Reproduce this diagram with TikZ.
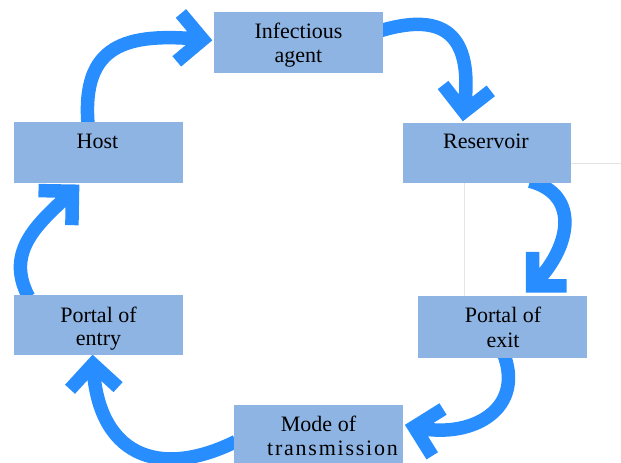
\documentclass[tikz,border=0pt]{standalone}
\usepackage{fontspec}
\setmainfont{Liberation Serif}
\usetikzlibrary{calc}
\definecolor{boxblue}{RGB}{142,180,227}
\definecolor{arrowblue}{RGB}{40,142,255}
\definecolor{faint}{RGB}{228,228,228}
\begin{document}
\begin{tikzpicture}[x=1pt,y=-1pt,
  box/.style={fill=boxblue, draw=none, inner sep=0pt, minimum width=169pt, minimum height=61pt},
  txt/.style={font=\fontsize{22}{24}\selectfont, anchor=base, inner sep=0pt},
  cyc/.style={draw=arrowblue, line width=13.5pt, line cap=butt, line join=miter},
  faintline/.style={draw=faint, line width=0.8pt}]
\useasboundingbox (0,0) rectangle (621,463);
% boxes (placed first, arrows reference them, boxes redrawn on top)
\path (298.5,42.5) node[box] (agent) {}
      (98.5,152.5) node[box] (host) {}
      (487,153) node[box, minimum width=168pt, minimum height=60pt] (reservoir) {}
      (98.5,325) node[box, minimum height=60pt] (entry) {}
      (502.5,327) node[box, minimum height=62pt] (exit) {}
      (318.5,435.5) node[box] (mode) {};
% faint lines
\draw[faintline] (571,163) -- (621,163);
\draw[faintline] (464,183) -- (464,296);
% arrows (shaft + chevron head)
\draw[cyc] ($(host.north)+(-10.5,2)$) .. controls (82,45) and (125,32) .. ($(agent.west)+(-11,-3)$)
  coordinate (e1) ++(140:34) -- (e1) -- ++(230:34);
\draw[cyc] ($(agent.east)+(-2,-12)$) .. controls (458,8) and (472,50) .. ($(reservoir.north)+(-23,-11)$)
  coordinate (e2) ++(232:34) -- (e2) -- ++(322:34);
\draw[cyc] ($(reservoir.south)+(43,-2)$) .. controls (582,195) and (570,250) .. ($(exit.north)+(30,-10)$)
  coordinate (e3) ++(270:34) -- (e3) -- ++(0:34);
\draw[cyc] ($(exit.south)+(2,-2)$) .. controls (524,412) and (468,440) .. ($(mode.east)+(11,-8.5)$)
  coordinate (e4) ++(-32:34) -- (e4) -- ++(58:34);
\draw[cyc] ($(mode.west)+(2,6)$) .. controls (158,480) and (97,455) .. ($(entry.south)+(-5.5,9)$)
  coordinate (e5) ++(42.5:34) -- (e5) -- ++(132.5:34);
\draw[cyc] ($(entry.north)+(-70,2)$) .. controls (4,250) and (40,222) .. ($(host.south)+(-26,8)$)
  coordinate (e6) ++(91:34) -- (e6) -- ++(181:34);
% boxes on top
\path (agent) node[box] (agentbox) {}
      (host) node[box] (hostbox) {}
      (reservoir) node[box, minimum width=168pt, minimum height=60pt] (reservoirbox) {}
      (entry) node[box, minimum height=60pt] (entrybox) {}
      (exit) node[box, minimum height=62pt] (exitbox) {}
      (mode) node[box] (modebox) {};
% texts
\node[txt] (t1) at (298.5,38) {Infectious};
\node[txt] (t2) at (298.5,62) {agent};
\node[txt] (t3) at (97.5,148) {Host};
\node[txt] (t4) at (486,148) {Reservoir};
\node[txt] (t5) at (98.5,322) {Portal of};
\node[txt] (t6) at (98.5,345) {entry};
\node[txt] (t7) at (503,322) {Portal of};
\node[txt] (t8) at (503,347) {exit};
\node[txt] (t9) at (318.5,431) {Mode of};
\node[txt] (t10) at (332.5,455) {\addfontfeatures{LetterSpace=8}transmission};
\end{tikzpicture}
\end{document}
